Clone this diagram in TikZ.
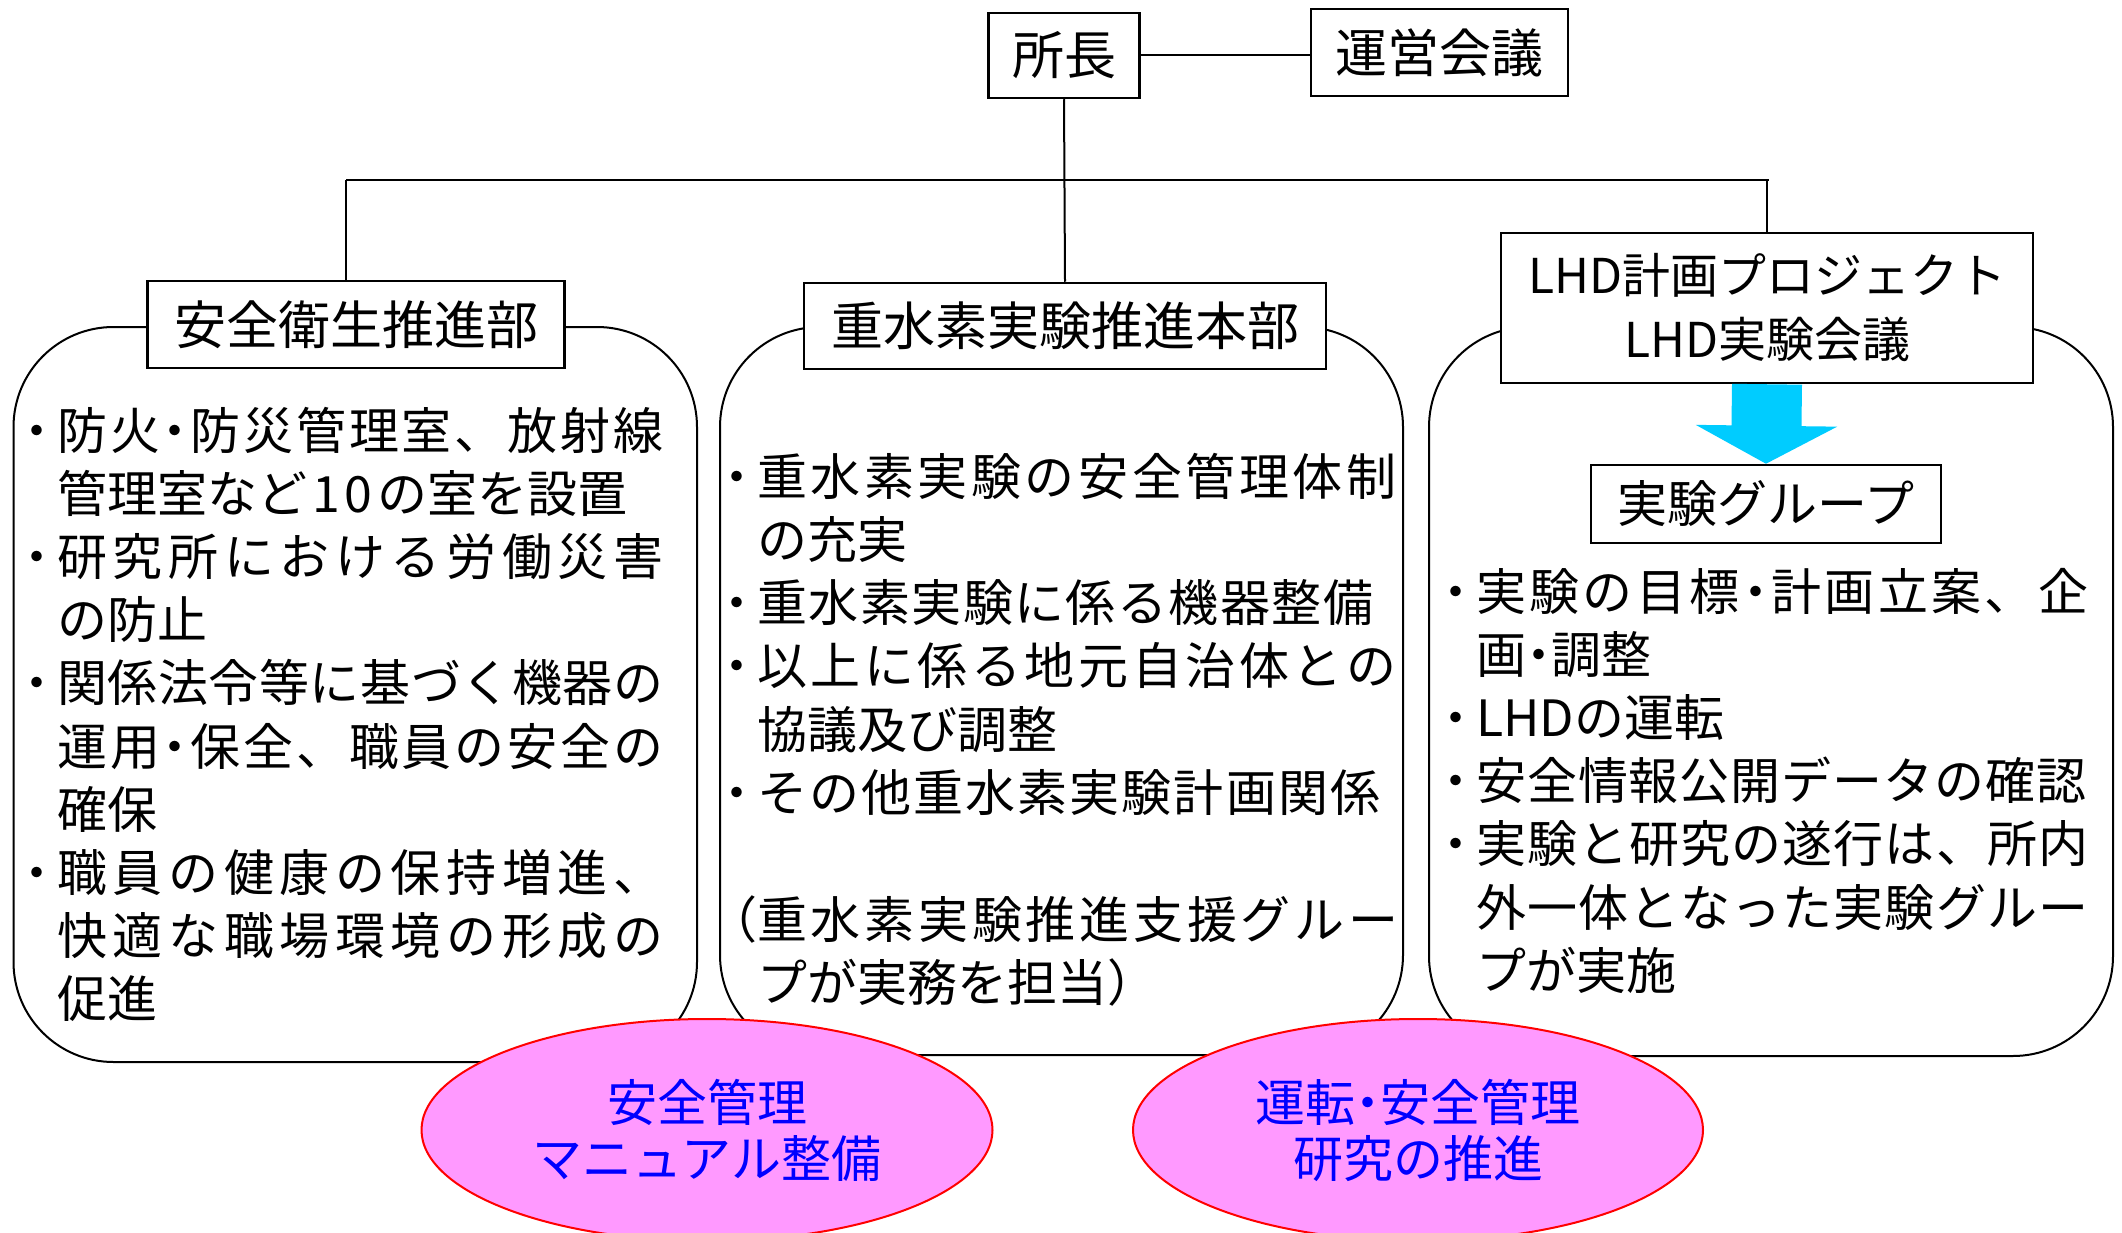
\documentclass[tikz,border=0pt]{standalone}
\usepackage{fontspec}
\setmainfont{Noto Sans CJK JP}
\usetikzlibrary{arrows.meta,shapes.geometric}
\definecolor{pinkfill}{RGB}{255,153,255}
\definecolor{arrowcyan}{RGB}{0,204,255}
\definecolor{txtblue}{RGB}{0,0,255}
\definecolor{ellred}{RGB}{255,0,0}
\makeatletter
\def\jl@loop#1#2\jl@nil{#1\if\relax\detokenize{#2}\relax\else\hfill\jl@loop#2\jl@nil\fi}
\newcommand\jl[2]{\makebox[#1pt][s]{\jl@loop#2\jl@nil}}
\makeatother
\newcommand\bul{\llap{\textbf{･}\hspace{8pt}}}
\newcommand\md{\textbf{･}}
\begin{document}
\begin{tikzpicture}[x=1pt,y=-1pt,
  panel/.style={draw, line width=2pt, rounded corners=100pt, fill=white, inner sep=0},
  tbox/.style={draw, line width=2.5pt, fill=white, inner sep=0, font=\fontsize{52}{64}\selectfont},
  body/.style={anchor=base west, inner sep=0, font=\fontsize{50}{63}\selectfont},
  ell/.style={ellipse, draw=ellred, line width=2pt, fill=pinkfill, text=txtblue, inner sep=0, align=center, font=\fontsize{50}{56}\selectfont},
  conn/.style={line width=2pt}]
\useasboundingbox (0,0) rectangle (2122,1233);
\fill[white] (0,0) rectangle (2122,1233);

% panels
\node[panel, minimum width=683.5pt, minimum height=735pt] (P1) at (355.25,694.5) {};
\node[panel, minimum width=683pt, minimum height=728pt] (P2) at (1061.5,691) {};
\node[panel, minimum width=684pt, minimum height=729pt] (P3) at (1771,691.5) {};

% title boxes
\node[tbox, minimum width=151pt, minimum height=85pt] (shocho) at (1064,55.5) {所長};
\node[tbox, minimum width=257pt, minimum height=87pt] (unei) at (1439.5,52.5) {運営会議};
\node[tbox, minimum width=417pt, minimum height=87pt] (anzen) at (356,324.5) {安全衛生推進部};
\node[tbox, minimum width=522pt, minimum height=86pt] (jusui) at (1065,326) {重水素実験推進本部};
\node[tbox, minimum width=532pt, minimum height=150pt, align=center, font=\fontsize{48}{64}\selectfont] (lhd) at (1767,308) {LHD計画プロジェクト\\LHD実験会議};
\node[tbox, minimum width=350pt, minimum height=78pt, font=\fontsize{50}{60}\selectfont] (group) at (1766,504) {実験グループ};

% connectors
\coordinate (jL) at (346,180);
\coordinate (jR) at (1769,180);
\draw[conn] (shocho.east) -- (shocho.east -| unei.west);
\draw[conn] (shocho.south) -- (jusui.north);
\draw[conn] (jL) -- (jR);
\draw[conn] (jL) -- (jL |- anzen.north);
\draw[conn] (lhd.north |- jR) -- (lhd.north);
\draw[arrowcyan, line width=70pt, -{Triangle[width=140pt,length=38pt]}] (lhd.south) -- (group.north);

% left panel text
\foreach \k/\txt in {
  0/{\bul\jl{606}{防火\md 防災管理室、放射線}},
  1/{管理室など\hspace{5pt}1\hspace{5pt}0\hspace{5pt}の室を設置},
  2/{\bul\jl{606}{研究所における労働災害}},
  3/{の防止},
  4/{\bul\jl{606}{関係法令等に基づく機器の}},
  5/{\jl{606}{運用\md 保全、職員の安全の}},
  6/{確保},
  7/{\bul\jl{606}{職員の健康の保持増進、}},
  8/{\jl{606}{快適な職場環境の形成の}},
  9/{促進}}
  \node[body] (A\k) at (57,{449+63.2*\k}) {\txt};

% middle panel text
\foreach \k/\txt in {
  0/{\bul\jl{639}{重水素実験の安全管理体制}},
  1/{の充実},
  2/{\bul\jl{616}{重水素実験に係る機器整備}},
  3/{\bul\jl{639}{以上に係る地元自治体との}},
  4/{協議及び調整},
  5/{\bul\jl{623}{その他重水素実験計画関係}},
  7/{\llap{（}\jl{641}{重水素実験推進支援グルー}},
  8/{プが実務を担当）}}
  \node[body] (B\k) at (757,{495+63.3*\k}) {\txt};

% right panel text
\foreach \k/\txt in {
  0/{\bul\jl{612}{実験の目標\md 計画立案、企}},
  1/{画\md 調整},
  2/{\bul LHDの運転},
  3/{\bul\jl{610}{安全情報公開データの確認}},
  4/{\bul\jl{612}{実験と研究の遂行は、所内}},
  5/{\jl{612}{外一体となった実験グルー}},
  6/{プが実施}}
  \node[body] (C\k) at (1476,{610+63.2*\k}) {\txt};

% ellipses
\node[ell, minimum width=571pt, minimum height=222pt] (E1) at (707,1130) {安全管理\\マニュアル整備};
\node[ell, minimum width=570pt, minimum height=222pt] (E2) at (1418,1130) {運転\md 安全管理\\研究の推進};
\end{tikzpicture}
\end{document}
